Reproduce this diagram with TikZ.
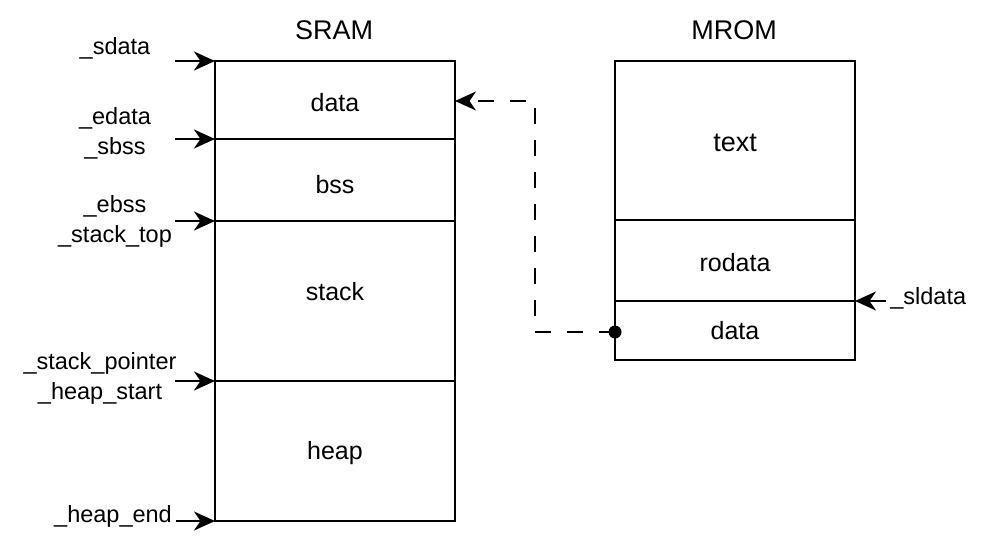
\documentclass[tikz,border=0pt]{standalone}
\usepackage{fontspec}
\setmainfont{Liberation Sans}
\usetikzlibrary{positioning,calc,arrows.meta}

\tikzset{
	lbl/.style={align=center, font=\fontsize{23.5}{30}\selectfont},
	ttl/.style={font=\fontsize{27}{30}\selectfont},
	dashes/.style={dash pattern=on 16pt off 16pt}
}

\begin{document}
\begin{tikzpicture}[x=1pt, y=-1pt, line width=2pt, font=\fontsize{25}{30}\selectfont,
	>={Stealth[length=21pt, width=19pt, inset=6.5pt]}]
		\useasboundingbox (0,0) rectangle (990,546);
		
		% SRAM
		\node[ttl] (sram) at (334,30) {SRAM};
		\draw[] (215,61) rectangle ++(240,78) node[pos=.5, yshift=-3pt] (sdata) {data};
		\draw[] (215,139) rectangle ++(240,82) node[pos=.5, yshift=-5pt] (sbss) {bss};
		\draw[] (215,221) rectangle ++(240,160) node[pos=.5, yshift=9pt] (sstack) {stack};
		\draw[] (215,381) rectangle ++(240,140) node[pos=.5, yshift=-2pt] (sheap) {heap};
		
		% MROM
		\node[ttl] (mrom) at (734,30) {MROM};
		\draw[] (615,61) rectangle ++(240,159) node[pos=.5, yshift=-2pt, font=\fontsize{27}{30}\selectfont] (mtext) {text};
		\draw[] (615,220) rectangle ++(240,81) node[pos=.5, yshift=-2pt] (mrodata) {rodata};
		\draw[] (615,301) rectangle ++(240,59) node[pos=.5] (mdata) {data};
		
		% Kanten und Symbole
		\coordinate (e1) at (215,61);
		\coordinate (e2) at (215,139);
		\coordinate (e3) at (215,221);
		\coordinate (e4) at (215,381);
		\coordinate (e5) at (215,521);
		\coordinate (datR) at (455,101);
		\coordinate (mdot) at (615,332);
		\coordinate (mrR) at (855,301);
		
		\node[lbl] (l1) at (115,48) {\_sdata};
		\node[lbl] (l2) at (115,133) {\_edata\\\_sbss};
		\node[lbl] (l3) at (115,221) {\_ebss\\\_stack\_top};
		\node[lbl] (l4) at (100,378) {\_stack\_pointer\\\_heap\_start};
		\node[lbl] (l5) at (113,516) {\_heap\_end};
		\node[lbl, anchor=west] (l6) at (886,298) {\_sldata};
		
		\draw[->] (e1) ++(-40,0) -- (e1);
		\draw[->] (e2) ++(-40,0) -- (e2);
		\draw[->] (e3) ++(-40,0) -- (e3);
		\draw[->] (e4) ++(-40,0) -- (e4);
		\draw[->] (l5.east) ++(0,5) -- (e5);
		\draw[->] (l6.west) ++(0,3) -- (mrR);
		
		\fill (mdot) circle (6.5pt);
		\draw[->, dashes] (mdot) -- ++(-80,0) |- (datR);
	\end{tikzpicture}
\end{document}
